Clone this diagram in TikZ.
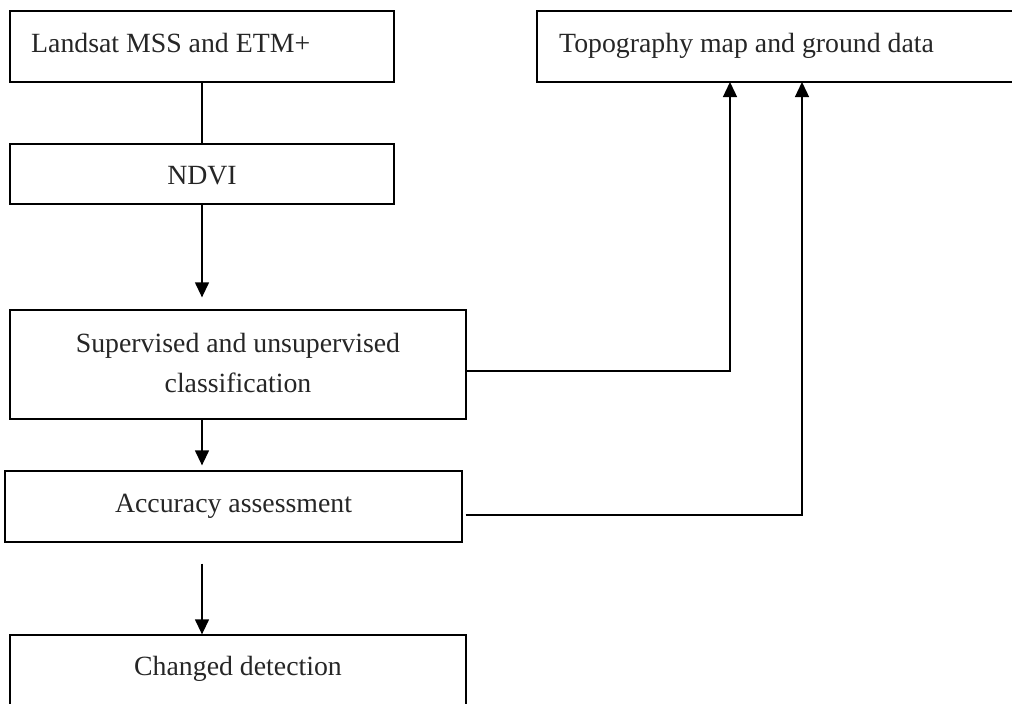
\documentclass[tikz,border=0pt]{standalone}
\usepackage{fontspec}
\setmainfont{Liberation Serif}
\usetikzlibrary{arrows.meta}
\begin{document}
\begin{tikzpicture}[x=1pt,y=-1pt,
  box/.style={draw=black,line width=1.3pt,rectangle,inner sep=0pt},
  lbl/.style={text=black!85,font=\fontsize{27.8}{40}\selectfont,inner sep=0pt},
  conn/.style={draw=black,line width=1.3pt},
  arr/.style={conn,-{Triangle[length=15pt,width=14pt]}}]
\useasboundingbox (0,0) rectangle (1012,704);
\clip (0,0) rectangle (1012,704);
% boxes
\node[box,minimum width=483pt,minimum height=71pt] (topo) at (778.5,46.5) {};
\node[box,minimum width=384pt,minimum height=71pt] (b1) at (202,46.5) {};
\node[box,minimum width=384pt,minimum height=60pt] (ndvi) at (202,174) {};
\node[box,minimum width=456pt,minimum height=109pt] (sup) at (238,364.5) {};
\node[box,minimum width=457pt,minimum height=71pt] (acc) at (233.5,506.5) {};
\node[box,minimum width=456pt,minimum height=76pt] (chg) at (238,673) {};
% texts
\node[lbl,anchor=base west] (t1) at (31,52) {Landsat MSS and ETM+};
\node[lbl,anchor=base west] (t2) at (559,52) {Topography map and ground data};
\node[lbl,anchor=base] (t3) at (202,184) {NDVI};
\node[lbl,anchor=base] (t4) at (238,352) {Supervised and unsupervised};
\node[lbl,anchor=base] (t5) at (238,392) {classification};
\node[lbl,anchor=base] (t6) at (233.5,512) {Accuracy assessment};
\node[lbl,anchor=base] (t7) at (238,675) {Changed detection};
% connectors
\coordinate (c1) at (730,82);
\coordinate (c2) at (802,82);
\draw[conn] (b1.south) -- (ndvi.north);
\draw[arr,shorten >=12pt] (ndvi.south) -- (sup.north -| ndvi.south);
\draw[arr,shorten >=5pt] (sup.south -| ndvi.south) -- (acc.north -| ndvi.south);
\draw[arr,shorten <=21pt] (acc.south -| ndvi.south) -- (chg.north -| ndvi.south);
\draw[arr] (sup.east |- 0,371) -| (c1);
\draw[arr,shorten <=3pt] (acc.east |- 0,515) -| (c2);
\end{tikzpicture}
\end{document}
